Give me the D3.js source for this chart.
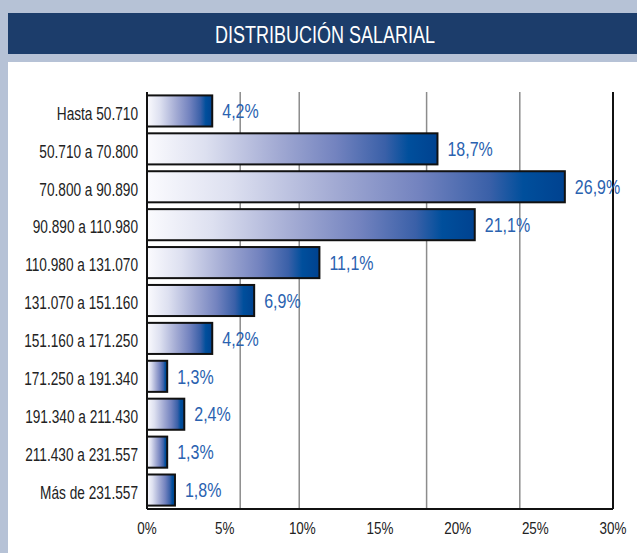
<!DOCTYPE html>
<html><head><meta charset="utf-8">
<script src="https://cdn.jsdelivr.net/npm/d3@7/dist/d3.min.js"></script>
<style>
html,body{margin:0;padding:0;background:#b6c2d6;}
svg{display:block;}
</style></head>
<body>
<svg id="c" width="637" height="553"></svg>
<script>
const title = "DISTRIBUCIÓN SALARIAL";
const categories = ["Hasta 50.710","50.710 a 70.800","70.800 a 90.890","90.890 a 110.980","110.980 a 131.070","131.070 a 151.160","151.160 a 171.250","171.250 a 191.340","191.340 a 211.430","211.430 a 231.557","Más de 231.557"];
const values = [4.2,18.7,26.9,21.1,11.1,6.9,4.2,1.3,2.4,1.3,1.8];
const valueLabels = ["4,2%","18,7%","26,9%","21,1%","11,1%","6,9%","4,2%","1,3%","2,4%","1,3%","1,8%"];
const ticks = [0,5,10,15,20,25,30];
const tickLabels = ["0%","5%","10%","15%","20%","25%","30%"];
const gridLines = [6,9.8,18,24];

const FONT = "'Liberation Sans',Arial,sans-serif";
const svg = d3.select("#c");

function narrow(f){
  return sel => sel.each(function(){
    const len = this.getComputedTextLength();
    d3.select(this).attr("textLength", len*f).attr("lengthAdjust","spacingAndGlyphs");
  });
}

// background panels
svg.append("rect").attr("x",0).attr("y",0).attr("width",637).attr("height",553).attr("fill","#b6c2d6");
svg.append("rect").attr("x",8).attr("y",13).attr("width",629).attr("height",41).attr("fill","#1c3d6b");
svg.append("rect").attr("x",8).attr("y",62).attr("width",629).attr("height",491).attr("fill","#ffffff");
svg.append("text").attr("x",325).attr("y",43).attr("text-anchor","middle")
  .attr("font-family",FONT).attr("font-size",24.5).attr("fill","#ffffff")
  .attr("textLength",220).attr("lengthAdjust","spacingAndGlyphs")
  .text(title);

const x = d3.scaleLinear().domain([0,30]).range([147,613]);
const y = d3.scaleBand().domain(categories).range([92,509]).paddingInner(0.18).paddingOuter(0.09);

// gradient
const defs = svg.append("defs");
const g = defs.append("linearGradient").attr("id","barGrad").attr("x1","0").attr("x2","1").attr("y1","0").attr("y2","0");
[[0,"#fbfbfe"],[0.2,"#dde0f0"],[0.45,"#a2aad3"],[0.65,"#7383bf"],[0.82,"#3a60a8"],[0.9,"#004f9c"],[1,"#004290"]]
  .forEach(s=>g.append("stop").attr("offset",s[0]).attr("stop-color",s[1]));

// gridlines
svg.append("g").selectAll("line").data(gridLines).join("line")
  .attr("x1",d=>x(d)).attr("x2",d=>x(d)).attr("y1",92).attr("y2",508)
  .attr("stroke","#8c8c8c").attr("stroke-width",1.5);

// bars
svg.append("g").selectAll("rect").data(values).join("rect")
  .attr("x",x(0)).attr("y",(d,i)=>y(categories[i]))
  .attr("width",d=>x(d)-x(0)).attr("height",y.bandwidth())
  .attr("fill","url(#barGrad)").attr("stroke","#111").attr("stroke-width",2);

// frame: left, bottom, right
const frame = svg.append("g").attr("stroke","#111").attr("stroke-width",2).attr("fill","none");
frame.append("line").attr("x1",x(0)).attr("x2",x(0)).attr("y1",92).attr("y2",509);
frame.append("line").attr("x1",x(0)).attr("x2",x(30)).attr("y1",509).attr("y2",509);
frame.append("line").attr("x1",x(30)).attr("x2",x(30)).attr("y1",92).attr("y2",509);

// category labels
svg.append("g").selectAll("text").data(categories).join("text")
  .attr("x",138).attr("y",d=>y(d)+y.bandwidth()/2+8.8)
  .attr("text-anchor","end").attr("font-family",FONT).attr("font-size",17.5).attr("fill","#222")
  .text(d=>d).call(narrow(0.78));

// value labels
svg.append("g").selectAll("text").data(values).join("text")
  .attr("x",d=>x(d)+10).attr("y",(d,i)=>y(categories[i])+y.bandwidth()/2+7.2)
  .attr("font-family",FONT).attr("font-size",20).attr("fill","#2a62b0")
  .text((d,i)=>valueLabels[i]).call(narrow(0.8));

// x tick labels
svg.append("g").selectAll("text").data(ticks).join("text")
  .attr("x",d=>x(d)).attr("y",533.5)
  .attr("text-anchor","middle").attr("font-family",FONT).attr("font-size",17).attr("fill","#222")
  .text((d,i)=>tickLabels[i]).call(narrow(0.79));
</script>
</body></html>
